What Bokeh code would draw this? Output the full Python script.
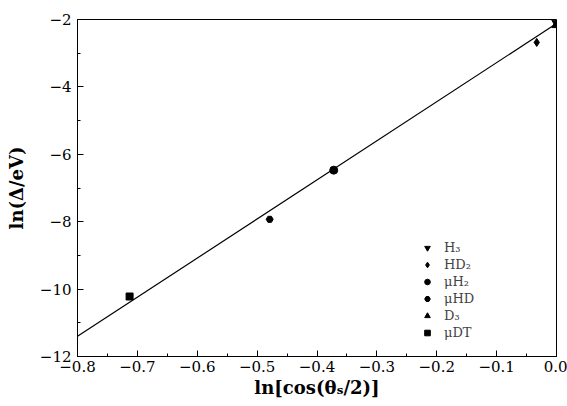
from bokeh.plotting import figure
from bokeh.models import CustomJSTickFormatter, Range1d, Legend, LegendItem, FixedTicker
from bokeh.embed import file_html
from bokeh.resources import INLINE

# data
labels = ["H\u2083", "HD\u2082", "\u03bcH\u2082", "\u03bcHD", "D\u2083", "\u03bcDT"]
markers = ["inverted_triangle", "diamond", "circle", "hex", "triangle", "square"]
x_vals = [-0.002, -0.033, -0.372, -0.479, -0.002, -0.713]
y_vals = [-2.08, -2.68, -6.47, -7.93, -2.18, -10.22]
sizes = [7, 8, 8, 7, 7, 7]

fit_x = [-0.8, 0.0]
fit_y = [-11.40, -2.12]

x_ticks = [-0.8, -0.7, -0.6, -0.5, -0.4, -0.3, -0.2, -0.1, 0.0]
y_ticks = [-12, -10, -8, -6, -4, -2]

FONT = "DejaVu Serif"

p = figure(width=567, height=406, output_backend="svg", toolbar_location=None,
           x_range=Range1d(-0.8, 0.0), y_range=Range1d(-12, -2),
           min_border_left=77, min_border_right=11, min_border_top=19, min_border_bottom=50)
p.xgrid.visible = False
p.ygrid.visible = False
p.outline_line_color = "black"
p.outline_line_width = 1
p.background_fill_color = "white"
p.border_fill_color = "white"

p.line(fit_x, fit_y, line_color="black", line_width=1.2)

items = []
for lab, mk, xv, yv, sz in zip(labels, markers, x_vals, y_vals, sizes):
    r = p.scatter([xv], [yv], marker=mk, size=sz, fill_color="black", line_color="black")
    items.append(LegendItem(label=lab, renderers=[r]))

legend = Legend(items=items, location=(343, 16), border_line_color=None,
                background_fill_alpha=0, label_text_font=FONT, label_text_font_size="13px",
                label_height=15, glyph_height=15, glyph_width=14, spacing=2, padding=2,
                label_standoff=10)
p.add_layout(legend, "center")

for ax in (p.xaxis[0], p.yaxis[0]):
    ax.axis_line_color = "black"
    ax.major_tick_in = 6
    ax.major_tick_out = 0
    ax.minor_tick_in = 3
    ax.minor_tick_out = 0
    ax.major_tick_line_color = "black"
    ax.minor_tick_line_color = "black"
    ax.major_label_text_font = FONT
    ax.major_label_text_font_size = "15px"
    ax.major_label_text_color = "black"
    ax.axis_label_text_font = FONT
    ax.axis_label_text_font_style = "bold"
    ax.axis_label_text_font_size = "18px"
    ax.axis_label_text_color = "black"

p.xaxis[0].ticker = FixedTicker(ticks=x_ticks, minor_ticks=[-0.75, -0.65, -0.55, -0.45, -0.35, -0.25, -0.15, -0.05])
p.yaxis[0].ticker = FixedTicker(ticks=y_ticks, minor_ticks=[-11, -9, -7, -5, -3])
p.xaxis[0].formatter = CustomJSTickFormatter(code="return tick.toFixed(1).replace('-', '\\u2212');")
p.yaxis[0].formatter = CustomJSTickFormatter(code="return tick.toFixed(0).replace('-', '\\u2212');")
p.xaxis[0].axis_label = "ln[cos(\u03b8\u209b/2)]"
p.yaxis[0].axis_label = "ln(\u0394/eV)"
p.xaxis[0].major_label_standoff = 4
p.xaxis[0].axis_label_standoff = 2
p.yaxis[0].major_label_standoff = 6
p.yaxis[0].axis_label_standoff = 10

open("out.html", "w").write(file_html(p, INLINE))
